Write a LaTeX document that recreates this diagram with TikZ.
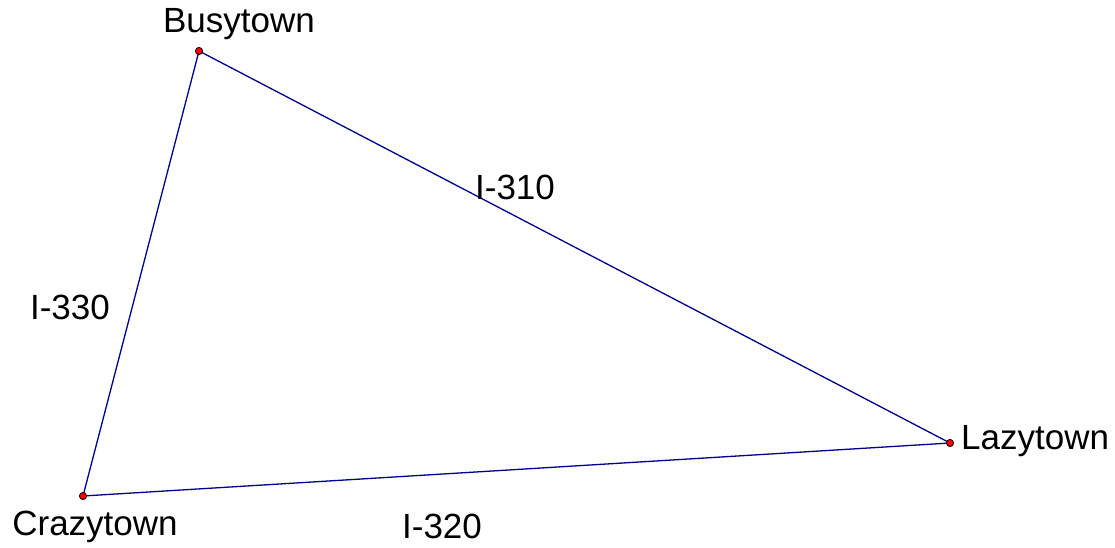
\documentclass[tikz,border=0pt]{standalone}
\usepackage{fontspec}
\setmainfont{Liberation Sans}
\usepackage{tikz}
\usetikzlibrary{positioning,calc}
\usepackage{xcolor}
\definecolor{roadblue}{RGB}{0,0,140}
\newcommand{\townlabelfont}{\fontsize{35}{35}\selectfont}
\newcommand{\towndots}{\foreach \t in {B,L,C}{\fill[red,draw=black,line width=0.8pt] (\t) circle (3.6);}}

\begin{document}
\begin{tikzpicture}[x=1pt,y=1pt,
    road/.style={roadblue,line width=1.3pt},
    lbl/.style={font=\townlabelfont,inner sep=0pt}]
\useasboundingbox (0,0) rectangle (1115,-548);
\coordinate (B) at (199,-51);
\coordinate (L) at (950,-443);
\coordinate (C) at (83,-496);
\draw[road] (B)--(L)--(C)--(B);
\towndots
\node[lbl,anchor=base] (busy) at (239,-33) {Busytown};
\node[lbl,anchor=west] (lazy) at (961,-441) {Lazytown};
\node[lbl,anchor=base] (crazy) at (95,-535) {Crazytown};
\node[lbl] (i310) at (515,-187) {I-310};
\node[lbl] (i330) at (70,-307) {I-330};
\node[lbl,anchor=base] (i320) at (442,-538) {I-320};
\end{tikzpicture}
\end{document}
